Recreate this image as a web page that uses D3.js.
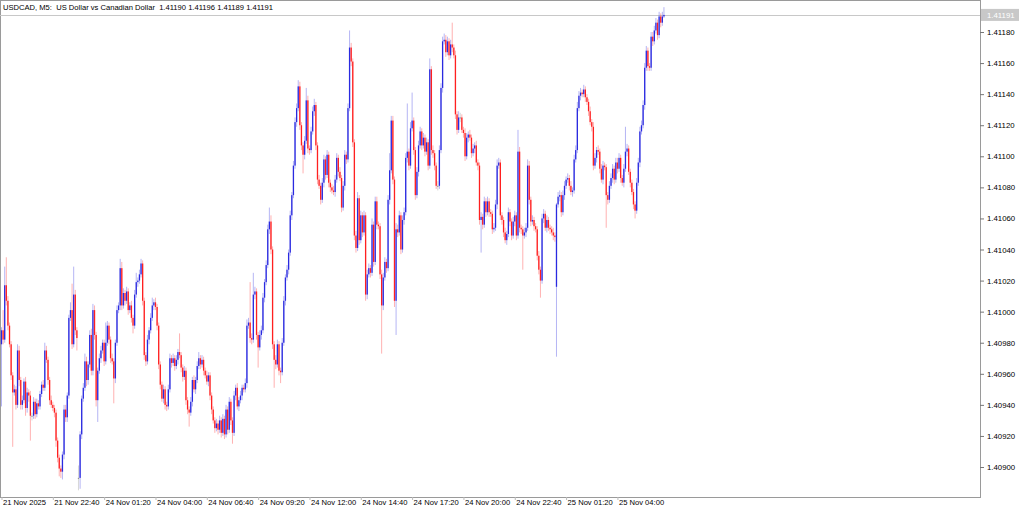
<!DOCTYPE html>
<meta charset="utf-8">
<style>
body { margin: 0; background: #fff; }
svg { display: block; }
text { font-family: "Liberation Sans", Arial, sans-serif; }
</style>
<body>
<svg width="1024" height="511"></svg>
<script src="https://d3js.org/d3.v7.min.js"></script>
<script>
// chart values, in points above 1.40000 (1 point = 0.00001)
var closes = [
  988, 982, 1017, 1007, 991, 979, 959, 948, 950, 940,
  975, 956, 940, 943, 955, 938, 948, 946, 933, 933,
  942, 934, 941, 939, 947, 953, 951, 975, 969, 956,
  943, 940, 938, 935, 917, 906, 899, 897, 908, 937,
  932, 946, 996, 1001, 979, 1011, 988, 983, 893, 921,
  944, 951, 968, 956, 966, 985, 962, 1001, 985, 943,
  962, 970, 975, 980, 968, 980, 991, 982, 970, 968,
  957, 980, 1001, 1004, 1028, 1004, 1012, 1007, 1013, 1001,
  1004, 996, 991, 1011, 1019, 1020, 1024, 1031, 1007, 972,
  968, 982, 988, 996, 1004, 1006, 1003, 991, 966, 953,
  944, 950, 940, 939, 950, 970, 967, 970, 965, 969,
  974, 972, 964, 958, 962, 943, 937, 935, 942, 956,
  950, 956, 965, 970, 966, 969, 962, 959, 955, 959,
  946, 937, 930, 925, 928, 924, 930, 922, 931, 921,
  937, 924, 942, 930, 922, 946, 951, 939, 943, 946,
  951, 950, 954, 991, 993, 983, 982, 1011, 1013, 985,
  977, 985, 988, 1009, 1019, 1030, 1053, 1058, 1040, 979,
  969, 966, 979, 962, 961, 980, 1007, 1022, 1027, 1038,
  1062, 1075, 1094, 1122, 1131, 1145, 1120, 1107, 1101, 1110,
  1136, 1105, 1104, 1116, 1129, 1133, 1107, 1085, 1081, 1072,
  1083, 1098, 1088, 1101, 1083, 1080, 1078, 1077, 1085, 1099,
  1090, 1086, 1067, 1081, 1101, 1098, 1131, 1170, 1161, 1109,
  1049, 1041, 1073, 1046, 1062, 1051, 1062, 1011, 1024, 1028,
  1025, 1056, 1032, 1071, 1056, 1055, 1024, 1004, 1022, 1032,
  1028, 1072, 1091, 1123, 1085, 1007, 1053, 1051, 1062, 1040,
  1059, 1064, 1099, 1103, 1094, 1118, 1123, 1104, 1075, 1090,
  1107, 1116, 1107, 1112, 1103, 1109, 1094, 1156, 1104, 1102,
  1094, 1081, 1081, 1104, 1144, 1174, 1175, 1167, 1174, 1165,
  1172, 1170, 1165, 1127, 1117, 1125, 1125, 1117, 1115, 1100,
  1112, 1114, 1112, 1102, 1105, 1107, 1096, 1094, 1059, 1061,
  1056, 1071, 1064, 1071, 1064, 1063, 1053, 1054, 1069, 1094,
  1096, 1062, 1059, 1051, 1046, 1050, 1064, 1058, 1049, 1058,
  1062, 1049, 1103, 1054, 1053, 1049, 1051, 1054, 1094, 1072,
  1058, 1059, 1055, 1053, 1036, 1027, 1020, 1060, 1063, 1054,
  1059, 1054, 1053, 1051, 1049, 1048, 1069, 1074, 1075, 1064,
  1075, 1081, 1085, 1086, 1081, 1077, 1078, 1098, 1104, 1131,
  1139, 1141, 1140, 1143, 1138, 1135, 1129, 1122, 1119, 1094,
  1099, 1104, 1103, 1092, 1085, 1094, 1093, 1075, 1072, 1081,
  1086, 1092, 1085, 1096, 1092, 1099, 1086, 1083, 1092, 1103,
  1105, 1090, 1083, 1077, 1069, 1065, 1083, 1096, 1116, 1120,
  1133, 1157, 1168, 1158, 1157, 1177, 1174, 1181, 1186, 1178,
  1190, 1186, 1190, 1191
];

// wick length above / below the body, in points
var wickUp = [
  2, 13, 12, 18, 3, 2, 2, 2, 3, 2,
  4, 3, 2, 3, 2, 3, 3, 2, 3, 2,
  3, 2, 3, 2, 2, 2, 3, 5, 3, 2,
  2, 3, 2, 2, 2, 2, 2, 2, 2, 3,
  3, 2, 2, 5, 17, 18, 3, 2, 8, 2,
  2, 3, 5, 3, 2, 3, 4, 4, 3, 2,
  2, 3, 3, 2, 2, 13, 3, 2, 2, 3,
  2, 2, 3, 2, 6, 4, 3, 2, 3, 2,
  2, 3, 2, 3, 6, 2, 3, 3, 2, 2,
  2, 3, 2, 3, 5, 2, 3, 2, 2, 2,
  2, 3, 2, 2, 3, 3, 2, 3, 2, 3,
  2, 12, 2, 2, 3, 2, 2, 2, 3, 2,
  3, 2, 3, 4, 2, 3, 2, 2, 3, 2,
  2, 2, 2, 2, 3, 2, 3, 2, 3, 2,
  3, 2, 3, 2, 2, 3, 2, 3, 2, 3,
  2, 2, 3, 4, 3, 26, 3, 14, 3, 2,
  2, 3, 3, 3, 2, 3, 3, 9, 4, 2,
  2, 3, 3, 2, 2, 3, 3, 2, 3, 2,
  3, 2, 3, 3, 3, 4, 3, 2, 2, 3,
  8, 3, 2, 3, 3, 4, 2, 2, 3, 2,
  3, 3, 2, 3, 2, 2, 2, 3, 3, 3,
  2, 3, 2, 3, 3, 2, 3, 11, 3, 2,
  2, 3, 4, 2, 3, 2, 3, 2, 3, 3,
  2, 4, 2, 3, 3, 2, 2, 3, 3, 3,
  2, 3, 11, 3, 3, 2, 4, 3, 3, 2,
  3, 3, 3, 31, 2, 4, 18, 2, 2, 3,
  3, 3, 2, 3, 2, 3, 2, 7, 2, 3,
  2, 2, 3, 3, 3, 3, 4, 3, 3, 2,
  3, 14, 2, 3, 2, 4, 3, 2, 2, 3,
  3, 2, 3, 2, 3, 2, 3, 2, 2, 3,
  2, 3, 2, 3, 2, 2, 2, 3, 3, 4,
  3, 2, 2, 2, 3, 2, 3, 2, 2, 3,
  3, 2, 14, 3, 2, 2, 3, 3, 4, 3,
  2, 3, 2, 2, 2, 3, 2, 3, 3, 2,
  3, 2, 2, 2, 3, 2, 1, 3, 3, 2,
  3, 3, 2, 3, 2, 3, 2, 3, 3, 4,
  3, 3, 2, 3, 2, 2, 2, 3, 2, 3,
  3, 2, 3, 2, 3, 3, 2, 2, 2, 3,
  3, 3, 2, 3, 3, 3, 2, 2, 3, 16,
  3, 2, 2, 2, 2, 2, 3, 3, 3, 3,
  3, 3, 3, 2, 2, 3, 3, 3, 3, 2,
  3, 2, 3, 5
];

var wickDown = [
  40, 3, 2, 3, 3, 2, 3, 35, 2, 3,
  2, 4, 3, 3, 2, 5, 3, 4, 16, 3,
  2, 3, 2, 2, 2, 2, 2, 2, 2, 3,
  3, 2, 2, 3, 4, 3, 5, 4, 5, 3,
  3, 3, 2, 2, 3, 2, 3, 8, 8, 7,
  3, 2, 2, 4, 3, 2, 3, 3, 3, 4,
  14, 2, 3, 2, 3, 2, 2, 3, 3, 2,
  16, 3, 2, 2, 3, 3, 2, 3, 2, 3,
  2, 3, 5, 2, 2, 3, 2, 2, 3, 3,
  3, 2, 3, 2, 2, 3, 2, 3, 3, 3,
  2, 3, 3, 3, 2, 2, 3, 2, 3, 2,
  3, 2, 3, 3, 2, 3, 3, 9, 2, 3,
  2, 3, 2, 2, 3, 2, 3, 2, 2, 3,
  3, 3, 2, 3, 2, 3, 2, 3, 2, 3,
  2, 3, 2, 3, 7, 2, 3, 2, 3, 2,
  3, 2, 2, 3, 2, 3, 3, 2, 3, 3,
  13, 2, 3, 2, 3, 2, 2, 3, 3, 3,
  18, 3, 2, 3, 7, 2, 2, 3, 2, 3,
  2, 3, 2, 2, 3, 2, 3, 3, 12, 3,
  2, 3, 3, 2, 2, 3, 3, 3, 2, 3,
  2, 3, 3, 2, 3, 3, 2, 2, 3, 2,
  3, 2, 3, 2, 3, 3, 2, 2, 3, 3,
  3, 3, 2, 3, 2, 3, 2, 4, 3, 2,
  3, 2, 3, 2, 3, 2, 3, 31, 3, 2,
  3, 2, 3, 2, 3, 4, 22, 3, 2, 3,
  2, 3, 2, 3, 3, 2, 2, 3, 3, 2,
  3, 2, 3, 2, 3, 2, 3, 2, 3, 3,
  3, 2, 3, 2, 2, 3, 2, 3, 2, 3,
  2, 3, 2, 3, 3, 2, 3, 2, 3, 3,
  2, 3, 2, 3, 2, 3, 2, 3, 3, 21,
  3, 2, 3, 2, 3, 2, 3, 2, 2, 3,
  2, 3, 3, 3, 2, 3, 2, 3, 3, 2,
  3, 3, 2, 3, 3, 22, 2, 3, 2, 3,
  3, 2, 3, 2, 3, 3, 11, 2, 3, 2,
  3, 2, 3, 2, 3, 3, 45, 2, 3, 3,
  2, 3, 2, 2, 3, 2, 3, 2, 2, 2,
  2, 3, 2, 2, 3, 2, 3, 2, 3, 3,
  2, 3, 2, 3, 2, 3, 2, 21, 3, 2,
  2, 3, 3, 2, 3, 2, 3, 2, 3, 2,
  3, 2, 3, 2, 3, 5, 2, 2, 3, 2,
  2, 3, 2, 3, 2, 2, 3, 2, 2, 3,
  2, 3, 2, 1
];

// open of the first bar, and bars that open away from the previous close
var firstOpen = 979;
var openGaps = [[48, 893], [346, 1016]];

var priceTicks = [1.40900, 1.40920, 1.40940, 1.40960, 1.40980, 1.41000, 1.41020,
  1.41040, 1.41060, 1.41080, 1.41100, 1.41120, 1.41140, 1.41160, 1.41180];
var timeLabels = ["21 Nov 2025", "21 Nov 22:40", "24 Nov 01:20", "24 Nov 04:00",
  "24 Nov 06:40", "24 Nov 09:20", "24 Nov 12:00", "24 Nov 14:40", "24 Nov 17:20",
  "24 Nov 20:00", "24 Nov 22:40", "25 Nov 01:20", "25 Nov 04:00"];
var barsPerLabel = 32;
var title = "USDCAD, M5:  US Dollar vs Canadian Dollar  1.41190 1.41196 1.41189 1.41191";
var lastPrice = 1.41191;

var base = 1.4;
var gapMap = new Map(openGaps);
var bars = closes.map(function(c, i) {
  var o = i === 0 ? firstOpen : (gapMap.has(i) ? gapMap.get(i) : closes[i - 1]);
  return {
    i: i,
    o: base + o / 1e5,
    c: base + c / 1e5,
    h: base + (Math.max(o, c) + wickUp[i]) / 1e5,
    l: base + (Math.min(o, c) - wickDown[i]) / 1e5
  };
});

var plotW = 980, plotH = 497;
var svg = d3.select("svg");

var x = d3.scaleLinear().domain([0, bars.length - 1]).range([1.5, 1.5 + (bars.length - 1) * 1.604]);
var y = d3.scaleLinear().domain([1.408807, 1.412006]).range([plotH, 0]);

// frame
svg.append("rect")
  .attr("x", 0.5).attr("y", 0.5)
  .attr("width", plotW).attr("height", plotH)
  .attr("fill", "none").attr("stroke", "#9a9a9a");

// bid line
svg.append("line")
  .attr("x1", 0).attr("x2", plotW)
  .attr("y1", Math.round(y(lastPrice)) + 0.5).attr("y2", Math.round(y(lastPrice)) + 0.5)
  .attr("stroke", "#c8c8c8");

var color = function(d) {
  if (d.c > d.o) return "#2a2ae0";
  if (d.c < d.o) return "#ff2020";
  return "#8c8c8c";
};

var candles = svg.append("g").selectAll("g")
  .data(bars)
  .enter().append("g");

candles.append("line")
  .attr("x1", d => x(d.i)).attr("x2", d => x(d.i))
  .attr("y1", d => y(d.h)).attr("y2", d => y(d.l))
  .attr("stroke", color)
  .attr("stroke-width", 1)
  .attr("stroke-opacity", 0.35);

candles.append("rect")
  .attr("x", d => x(d.i) - 0.65)
  .attr("width", 1.3)
  .attr("y", d => y(Math.max(d.o, d.c)))
  .attr("height", d => Math.max(1, y(Math.min(d.o, d.c)) - y(Math.max(d.o, d.c))))
  .attr("fill", color);

// price axis
var yAxis = svg.append("g")
  .attr("transform", "translate(" + plotW + ",0)")
  .call(d3.axisRight(y).tickValues(priceTicks).tickSize(4).tickPadding(3).tickFormat(d3.format(".5f")));
yAxis.select(".domain").remove();
yAxis.selectAll("line").attr("stroke", "#777");
yAxis.selectAll("text").attr("font-size", "7.8px").attr("fill", "#000").attr("font-family", "Liberation Sans, Arial, sans-serif");

// current price tag
var tagY = y(lastPrice);
svg.append("rect")
  .attr("x", plotW + 1).attr("y", tagY - 6)
  .attr("width", 38).attr("height", 12)
  .attr("fill", "#c8c8c8");
svg.append("text")
  .attr("x", plotW + 7).attr("y", tagY + 3)
  .attr("font-size", "7.8px").attr("fill", "#fff")
  .text(d3.format(".5f")(lastPrice));

// time axis
var xAxis = svg.append("g")
  .attr("transform", "translate(0," + plotH + ")")
  .call(d3.axisBottom(x)
    .tickValues(d3.range(0, timeLabels.length).map(k => k * barsPerLabel))
    .tickSize(3)
    .tickFormat((d, k) => timeLabels[k]));
xAxis.select(".domain").remove();
xAxis.selectAll("line").attr("stroke", "#bbb");
xAxis.selectAll("text")
  .attr("text-anchor", "start")
  .attr("x", 1).attr("y", 3).attr("dy", "0.71em")
  .attr("font-size", "7.6px").attr("fill", "#000").attr("font-family", "Liberation Sans, Arial, sans-serif");

// title
svg.append("text")
  .attr("x", 3).attr("y", 10)
  .attr("font-size", "7.6px").attr("fill", "#000")
  .attr("xml:space", "preserve")
  .text(title);
</script>
</body>
